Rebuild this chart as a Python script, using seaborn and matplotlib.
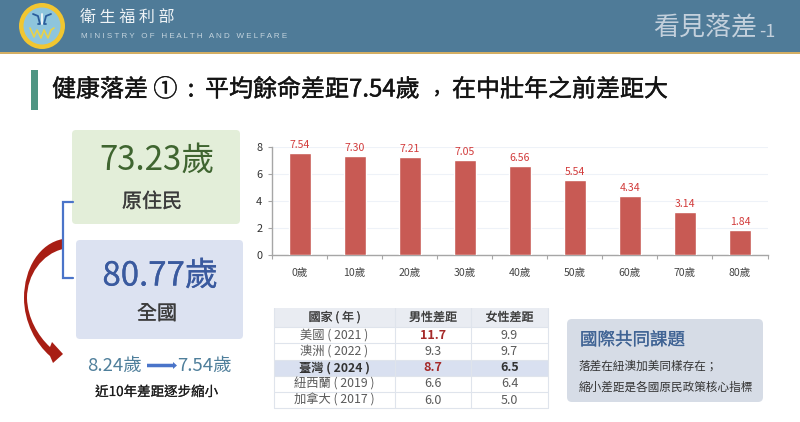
import matplotlib

matplotlib.use("Agg")

import matplotlib.patheffects as pe
import matplotlib.pyplot as plt
import pandas as pd
import seaborn as sns
from matplotlib.patches import Circle, FancyArrow, FancyBboxPatch, PathPatch, Rectangle
from matplotlib.path import Path

FIG_W, FIG_H = 800, 422

age_labels = ["0歲", "10歲", "20歲", "30歲", "40歲", "50歲", "60歲", "70歲", "80歲"]
gap_values = [7.54, 7.30, 7.21, 7.05, 6.56, 5.54, 4.34, 3.14, 1.84]
y_ticks = [0, 2, 4, 6, 8]

table_header = ["國家 ( 年 )", "男性差距", "女性差距"]
countries = ["美國 ( 2021 )", "澳洲 ( 2022 )", "臺灣 ( 2024 )", "紐西蘭 ( 2019 )", "加拿大 ( 2017 )"]
male_gap = ["11.7", "9.3", "8.7", "6.6", "6.0"]
female_gap = ["9.9", "9.7", "6.5", "6.4", "5.0"]

sns.set_theme(style="white")
plt.rcParams["font.family"] = ["Noto Sans CJK TC", "DejaVu Sans"]


def px(size):
    """Font size in points for a height given in pixels at dpi 100."""
    return size * 0.72


def heavy(color, width=0.2):
    # only regular and bold are available, this gives something in between
    return [pe.withStroke(linewidth=width, foreground=color)]


def rounded_box(ax, x0, y0, x1, y1, color, radius=4):
    ax.add_patch(FancyBboxPatch((x0 + radius, y0 + radius), x1 - x0 - 2 * radius, y1 - y0 - 2 * radius,
                                boxstyle=f"round,pad={radius},rounding_size={radius}",
                                fc=color, ec="none"))


def draw_header(ax):
    ax.add_patch(Rectangle((0, 0), FIG_W, 52, fc="#4f7b98", ec="none"))
    ax.add_patch(Rectangle((0, 52), FIG_W, 1.6, fc="#d3ae63", ec="none"))
    ax.add_patch(Circle((42, 26), 23, fc="#f1c631", ec="none"))
    ax.add_patch(Circle((42, 26), 18.5, fc="#8ec5dd", ec="none"))
    ax.plot([30, 34, 37, 41, 44, 48, 51, 54], [28, 37, 30, 38, 30, 38, 30, 28], color="#e8d24a", lw=1.2)
    ax.plot([33, 38, 40, 38], [14, 16, 24, 24], color="#2a5d9c", lw=1.3)
    ax.plot([51, 46, 44, 46], [14, 16, 24, 24], color="#2a5d9c", lw=1.3)
    ax.plot([42, 42], [14, 24], color="#f4f7f9", lw=1.3)
    ax.text(80, 17, "衛 生 福 利 部", color="#eef3f6", fontsize=px(16), va="center", ha="left")
    ax.text(81, 37, "M I N I S T R Y   O F   H E A L T H   A N D   W E L F A R E", color="#c4d4de",
            fontsize=px(8.05), va="center", ha="left", fontfamily="Liberation Sans")
    ax.text(653, 28, "看見落差", color="#c3d0dc", fontsize=px(26), va="center", ha="left")
    ax.text(759, 32, "-1", color="#c3d0dc", fontsize=px(18), va="center", ha="left")


def draw_title(ax):
    ax.add_patch(Rectangle((31, 70), 6.5, 40, fc="#4f9583", ec="none"))
    title_parts = [(52, 90, "健康落差 ①", "left", 24), (191, 90, ":", "center", 24),
                   (205, 90, "平均餘命差距7.54歲", "left", 24), (437, 87, ",", "center", 20),
                   (452, 90, "在中壯年之前差距大", "left", 24)]
    for x, y, part, align, size in title_parts:
        ax.text(x, y, part, color="#141414", fontsize=px(size), va="center", ha=align,
                path_effects=heavy("#141414", 0.3))


def draw_left_panel(ax):
    rounded_box(ax, 72, 130, 240, 224, "#e3eed9")
    rounded_box(ax, 76, 240, 243, 339, "#dce2f1")
    ax.text(157, 160, "73.23歲", color="#3f6530", fontsize=px(33), va="center", ha="center")
    ax.text(152, 202, "原住民", color="#3b3b3b", fontsize=px(20), va="center", ha="center",
            path_effects=heavy("#3b3b3b"))
    ax.text(160, 276, "80.77歲", color="#3a5a9f", fontsize=px(33), va="center", ha="center",
            path_effects=heavy("#3a5a9f", 0.15))
    ax.text(157, 314, "全國", color="#3b3b3b", fontsize=px(20), va="center", ha="center",
            path_effects=heavy("#3b3b3b"))

    verts = [(63, 239), (40, 243), (24, 268), (24, 298), (24, 322), (36, 344), (50, 356),
             (53, 363), (63, 354), (52, 342), (50, 347),
             (38, 336), (27.5, 318), (27, 298), (27, 275), (42, 254), (63, 249), (63, 239)]
    codes = [Path.MOVETO] + [Path.CURVE4] * 6 + [Path.LINETO] * 4 + [Path.CURVE4] * 6 + [Path.CLOSEPOLY]
    ax.add_patch(PathPatch(Path(verts, codes), fc="#a81e14", ec="none"))
    ax.plot([73, 62.5, 62.5, 73], [201.5, 201.5, 278, 278], color="#4a74c9", lw=1.6, solid_joinstyle="miter")

    ax.text(114.5, 365.5, "8.24歲", color="#4f7f9b", fontsize=px(18.5), va="center", ha="center")
    ax.text(204.5, 365.5, "7.54歲", color="#4f7f9b", fontsize=px(18.5), va="center", ha="center")
    ax.add_patch(FancyArrow(147, 365.5, 30, 0, width=3.5, head_width=7, head_length=4,
                            length_includes_head=True, fc="#4a74c9", ec="none"))
    ax.text(156.5, 392, "近10年差距逐步縮小", color="#1c1c1c", fontsize=px(13.5), va="center", ha="center",
            path_effects=heavy("#1c1c1c", 0.12))


def draw_table(ax):
    col_edges = [274, 395, 471, 548]
    row_edges = [308, 327, 343.3, 359.6, 375.9, 392, 408]
    line_color = "#dfe4ec"
    ax.add_patch(Rectangle((274, 308), 274, 19, fc="#e9ecf2", ec="none"))
    ax.add_patch(Rectangle((274, row_edges[3]), 274, 16.3, fc="#d9e0f0", ec="none"))
    for y in row_edges[1:]:
        ax.plot([274, 548], [y, y], color=line_color, lw=0.8)
    for x in col_edges:
        ax.plot([x, x], [308, 408], color=line_color, lw=0.8)

    centers = [(col_edges[i] + col_edges[i + 1]) / 2 for i in range(3)]
    for label, x in zip(table_header, centers):
        ax.text(x, 317.5, label, color="#3d3d3d", fontsize=px(12), va="center", ha="center",
                path_effects=heavy("#3d3d3d", 0.1))
    for i, (country, male, female) in enumerate(zip(countries, male_gap, female_gap)):
        y = (row_edges[i + 1] + row_edges[i + 2]) / 2
        bold = country.startswith("臺灣")
        weight = "bold" if bold else "normal"
        dark = "#333333" if bold else "#5a5a5a"
        male_color = "#a52a2a" if (bold or i == 0) else "#5a5a5a"
        ax.text(centers[0], y, country, color=dark, fontsize=px(12.3), fontweight=weight, va="center", ha="center")
        ax.text(centers[1], y, male, color=male_color, fontsize=px(12.5),
                fontweight="bold" if male_color == "#a52a2a" else "normal", va="center", ha="center")
        ax.text(centers[2], y, female, color=dark, fontsize=px(12.5), fontweight=weight, va="center", ha="center")


def draw_note(ax):
    rounded_box(ax, 567, 319, 763, 402, "#d6dce6", radius=5)
    ax.text(580, 340, "國際共同課題", color="#3f6394", fontsize=px(17.5), va="center", ha="left",
            path_effects=heavy("#3f6394", 0.12))
    ax.text(579, 366, "落差在紐澳加美同樣存在；", color="#333333", fontsize=px(11.6), va="center", ha="left")
    ax.text(579, 387, "縮小差距是各國原民政策核心指標", color="#333333", fontsize=px(11.6), va="center", ha="left")


def draw_chart(fig):
    left, right, top, bottom = 272, 767.5, 146.7, 255
    ax = fig.add_axes([left / FIG_W, 1 - bottom / FIG_H, (right - left) / FIG_W, (bottom - top) / FIG_H])
    frame = pd.DataFrame({"age": age_labels, "gap": gap_values})
    sns.barplot(data=frame, x="age", y="gap", color="#c85a54", saturation=1, width=0.4, ax=ax, zorder=3)
    ax.set_xlim(-0.5, len(age_labels) - 0.5)
    ax.set_ylim(0, 8)
    ax.patch.set_visible(False)
    ax.set_xlabel("")
    ax.set_ylabel("")
    ax.set_yticks(y_ticks)
    ax.yaxis.grid(True, color="#eef2f8", lw=0.8)
    ax.set_axisbelow(True)
    for side in ["top", "right"]:
        ax.spines[side].set_visible(False)
    for side in ["left", "bottom"]:
        ax.spines[side].set_color("#a6a6a6")
        ax.spines[side].set_linewidth(1.0)
    ax.tick_params(axis="y", length=3, width=0.8, color="#a6a6a6", labelsize=px(11), labelcolor="#333333", pad=4, left=True)
    ax.set_xticks(range(len(age_labels)))
    ax.set_xticklabels(age_labels)
    ax.tick_params(axis="x", length=0, labelsize=px(10.5), labelcolor="#444444", pad=9.5)
    # ticks sit between the categories
    ax.set_xticks([i - 0.5 for i in range(len(age_labels) + 1)], minor=True)
    ax.tick_params(axis="x", which="minor", length=3, width=0.8, color="#a6a6a6", bottom=True)
    for bar, value in zip(ax.patches, gap_values):
        ax.annotate(f"{value:.2f}", (bar.get_x() + bar.get_width() / 2, value), xytext=(0, 2.2),
                    textcoords="offset points", ha="center", va="bottom", color="#d23b3b",
                    fontsize=px(10.5), annotation_clip=False)


def main():
    fig = plt.figure(figsize=(FIG_W / 100, FIG_H / 100), dpi=100, facecolor="white")
    canvas = fig.add_axes([0, 0, 1, 1])
    canvas.set_xlim(0, FIG_W)
    canvas.set_ylim(FIG_H, 0)
    canvas.axis("off")

    draw_header(canvas)
    draw_title(canvas)
    draw_left_panel(canvas)
    draw_table(canvas)
    draw_note(canvas)
    draw_chart(fig)

    fig.savefig("out.png", dpi=100)
    plt.close(fig)


if __name__ == "__main__":
    main()
